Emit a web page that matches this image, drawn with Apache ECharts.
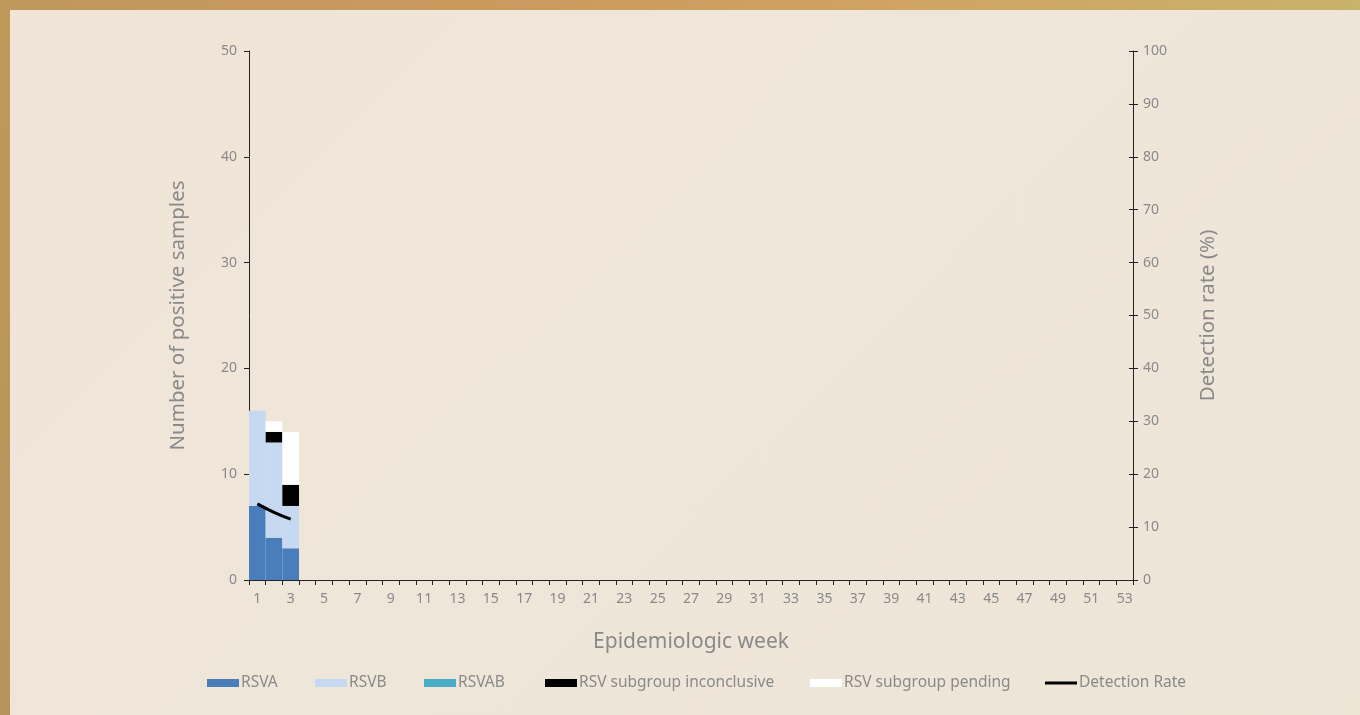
<!DOCTYPE html>
<html><head><meta charset="utf-8">
<script src="https://cdn.jsdelivr.net/npm/echarts@6/dist/echarts.min.js"></script>
<style>
html,body{margin:0;padding:0;width:1360px;height:715px;overflow:hidden;}
#bg{position:absolute;left:0;top:0;width:1360px;height:715px;background:linear-gradient(135deg,#efe4d6 0%,#efe6da 50%,#ede5d6 100%);}
#topb{position:absolute;left:0;top:0;width:1360px;height:10px;background:linear-gradient(90deg,#bf985a 0%,#cc9a5e 40%,#cfa566 70%,#c8b26c 100%);}
#leftb{position:absolute;left:0;top:0;width:10px;height:715px;background:linear-gradient(180deg,#bf985a 0%,#b8945c 100%);}
#chart{position:absolute;left:0;top:0;width:1360px;height:715px;}
</style></head>
<body>
<div id="bg"></div><div id="topb"></div><div id="leftb"></div>
<div id="chart"></div>
<script>
const weeks = ["1","2","3","4","5","6","7","8","9","10","11","12","13","14","15","16","17","18","19","20","21","22","23","24","25","26","27","28","29","30","31","32","33","34","35","36","37","38","39","40","41","42","43","44","45","46","47","48","49","50","51","52","53"];
const rsvA = [7, 4, 3];
const rsvB = [9, 9, 4];
const rsvAB = [0, 0, 0];
const inconclusive = [0, 1, 2];
const pending = [0, 1, 5];
const detectionRate = [14.4, 12.8, 11.5];

const FONT = '"Noto Sans", sans-serif';
const GRAY = '#8a8a8a';
const chart = echarts.init(document.getElementById('chart'));

function legendAt(name, x, isLine) {
  return {
    show: true, left: x, top: 675, itemWidth: 32, itemHeight: isLine ? 3 : 8,
    itemGap: 0, padding: 0, data: [{name: name, icon: 'rect'}],
    textStyle: {color: GRAY, fontSize: 15.5, fontFamily: FONT, padding: [0,0,0,-3]},
    selectedMode: false
  };
}

const option = {
  backgroundColor: 'transparent',
  animation: false,
  textStyle: {fontFamily: FONT},
  grid: {left: 249, right: 227, top: 51, bottom: 135},
  legend: [
    legendAt('RSVA', 207),
    legendAt('RSVB', 315),
    legendAt('RSVAB', 424),
    legendAt('RSV subgroup inconclusive', 545),
    legendAt('RSV subgroup pending', 810),
    legendAt('Detection Rate', 1045, true)
  ],
  xAxis: {
    type: 'category', data: weeks,
    name: 'Epidemiologic week', nameLocation: 'middle', nameGap: 52,
    nameTextStyle: {color: GRAY, fontSize: 21, fontFamily: FONT},
    axisLine: {lineStyle: {color: '#222', width: 1}},
    axisTick: {show: true, interval: 0, alignWithLabel: false, length: 5, lineStyle: {color: '#222'}},
    axisLabel: {interval: 1, color: GRAY, fontSize: 14, margin: 12, fontFamily: FONT}
  },
  yAxis: [{
    type: 'value', min: 0, max: 50, interval: 10,
    name: 'Number of positive samples', nameLocation: 'middle', nameGap: 60, nameRotate: 90,
    nameTextStyle: {color: GRAY, fontSize: 20.5, fontFamily: FONT},
    axisLine: {show: true, lineStyle: {color: '#222'}},
    axisTick: {show: true, length: 5, lineStyle: {color: '#222'}},
    axisLabel: {color: GRAY, fontSize: 14, margin: 12, fontFamily: FONT},
    splitLine: {show: false}
  }, {
    type: 'value', min: 0, max: 100, interval: 10, position: 'right',
    name: 'Detection rate (%)', nameLocation: 'middle', nameGap: 65, nameRotate: 90,
    nameTextStyle: {color: GRAY, fontSize: 20.5, fontFamily: FONT},
    axisLine: {show: true, lineStyle: {color: '#222'}},
    axisTick: {show: true, length: 5, lineStyle: {color: '#222'}},
    axisLabel: {color: GRAY, fontSize: 14, margin: 10, fontFamily: FONT},
    splitLine: {show: false}
  }, {
    type: 'value', min: 0, max: 100, interval: 10, position: 'right',
    axisLine: {show: false},
    axisTick: {show: true, inside: true, length: 4, lineStyle: {color: '#222'}},
    axisLabel: {show: false},
    splitLine: {show: false}
  }],
  series: [
    {name: 'RSVA', type: 'bar', stack: 's', data: rsvA, barCategoryGap: 0, itemStyle: {color: '#4a7ebb'}},
    {name: 'RSVB', type: 'bar', stack: 's', data: rsvB, itemStyle: {color: '#c6d9f1'}},
    {name: 'RSVAB', type: 'bar', stack: 's', data: rsvAB, itemStyle: {color: '#4bacc6'}},
    {name: 'RSV subgroup inconclusive', type: 'bar', stack: 's', data: inconclusive, itemStyle: {color: '#000000'}},
    {name: 'RSV subgroup pending', type: 'bar', stack: 's', data: pending, itemStyle: {color: '#ffffff'}},
    {name: 'Detection Rate', type: 'line', yAxisIndex: 1, data: detectionRate, smooth: true,
     symbol: 'none', lineStyle: {color: '#000', width: 3}, itemStyle: {color: '#000'}}
  ]
};
chart.setOption(option);
</script>
</body></html>
